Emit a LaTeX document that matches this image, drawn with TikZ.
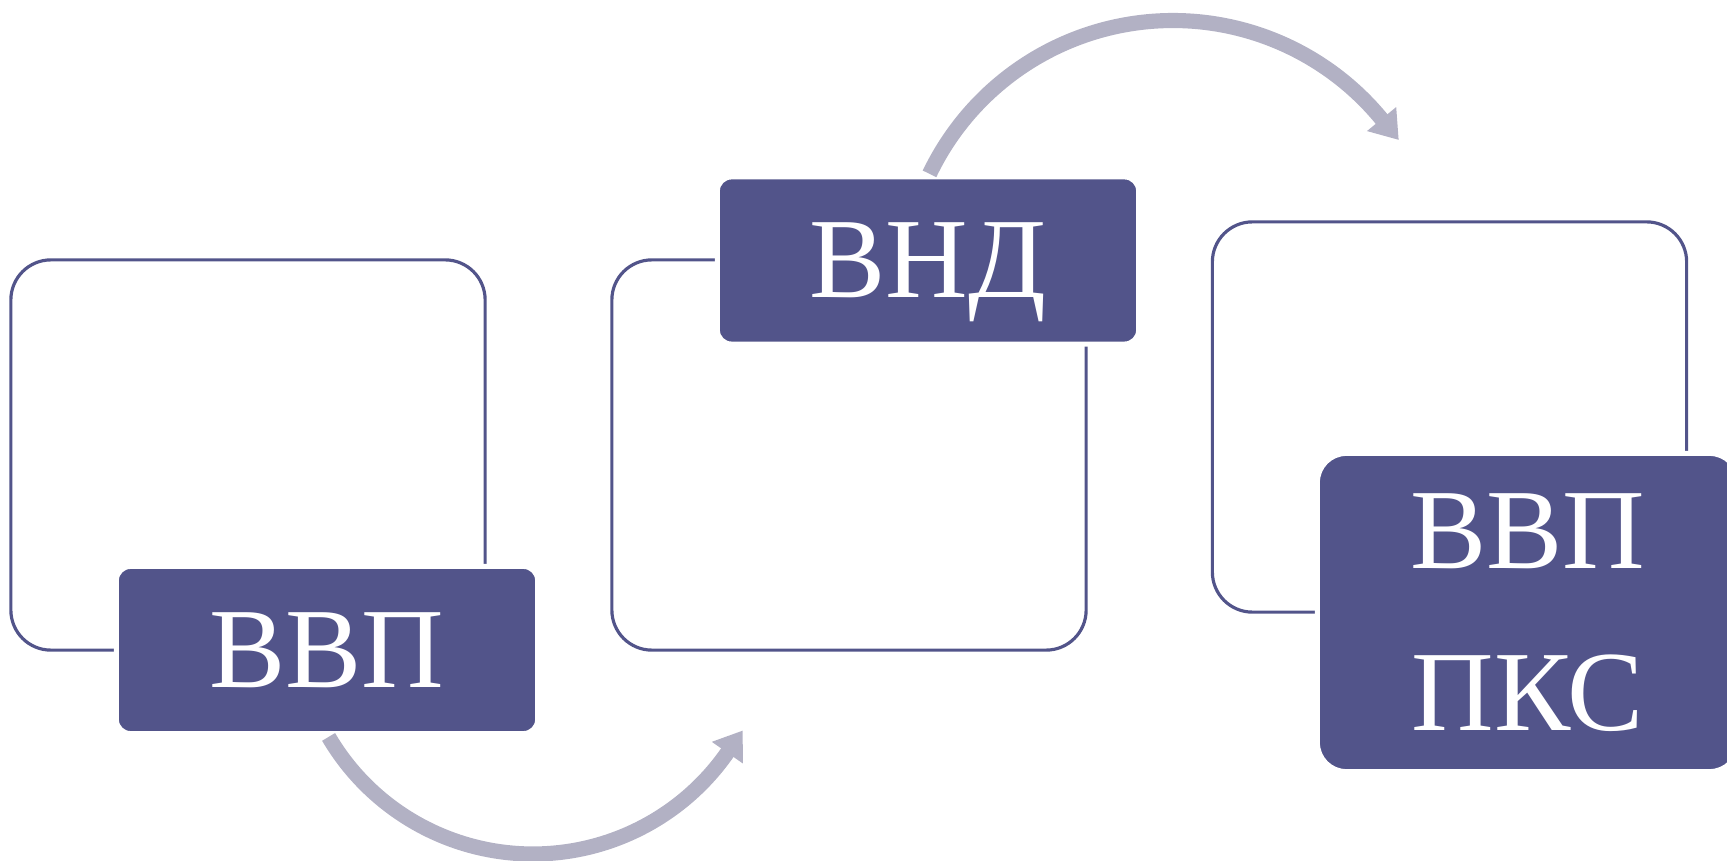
\documentclass[tikz,border=0pt]{standalone}
\usepackage{fontspec}
\setmainfont{Liberation Serif}
\usepackage{tikz}
\usetikzlibrary{arrows.meta}
\definecolor{boxblue}{HTML}{52548A}
\definecolor{arrowgrey}{HTML}{B2B1C4}

\begin{document}
\begin{tikzpicture}[x=0.01cm, y=0.01cm,
  framebox/.style={draw=boxblue, line width=0.9pt, rounded corners=0.4cm,
    minimum width=4.74cm, minimum height=3.9cm, inner sep=0pt},
  titlebox/.style={fill=boxblue, draw=white, line width=1.42pt, text=white,
    minimum width=4.21cm, minimum height=1.67cm, rounded corners=0.14cm,
    inner sep=0pt, align=center, font=\fontsize{32.5}{46}\selectfont},
  curvearrow/.style={draw=arrowgrey, line width=4.3pt,
    -{Triangle[width=10.2pt,length=7.7pt]}}]
\useasboundingbox (0,0) rectangle (1727,-861);
\clip (0,0) rectangle (1727,-861);
\node[framebox] (frameA) at (248,-455) {};
\node[framebox] (frameB) at (849,-455) {};
\node[framebox] (frameC) at (1449.5,-417) {};
\node[titlebox] (vvp) at (327,-650) {ВВП};
\node[titlebox, text depth=0pt] (vnd) at (928,-260.5) {ВНД};
\node[titlebox, minimum height=3.18cm, rounded corners=0.29cm] (vvppks) at (1528,-612.5) {ВВП\\ПКС};
\coordinate (lowhub) at (533,-617);
\coordinate (highhub) at (1173,-290.5);
\draw[curvearrow] ([shift={(210.4:237)}]lowhub) arc[start angle=210.4, end angle=325.1, radius=237] -- ++(55.1:27);
\draw[curvearrow] ([shift={(154.4:270)}]highhub) arc[start angle=154.4, end angle=39.4, radius=270] -- ++(-50.6:27);
\end{tikzpicture}
\end{document}
